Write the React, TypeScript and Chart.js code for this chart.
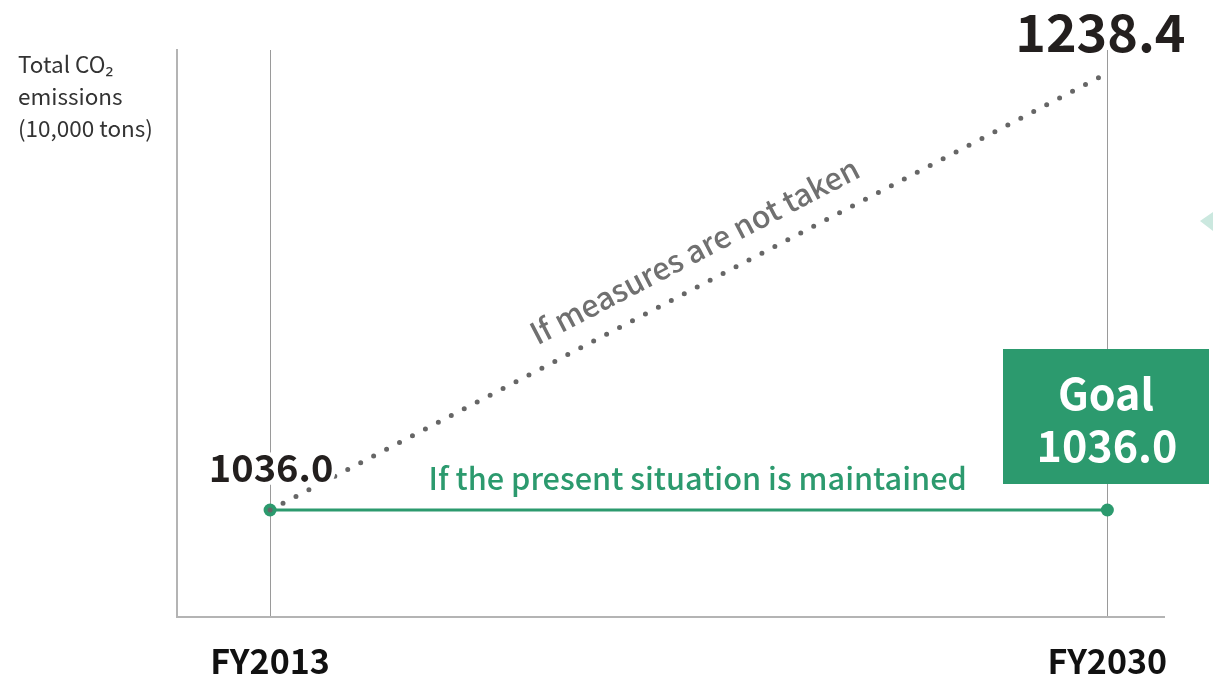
import React, { useEffect, useRef } from "react";
import { Chart, registerables } from "chart.js";

Chart.register(...registerables);

const years = [2013, 2030];
const presentValues = [1036.0, 1036.0];
const noMeasureValues = [1036.0, 1238.4];
const yTitle = ["Total CO₂", "emissions", "(10,000 tons)"];
const presentLabel = "If the present situation is maintained";
const noMeasureLabel = "If measures are not taken";
const goalLabel = ["Goal", "1036.0"];

const GREEN = "#2c9a6e";
const FONT = '"Noto Sans CJK JP", "Noto Sans", sans-serif';

const labelsPlugin = {
  id: "labelsPlugin",
  afterDatasetsDraw(chart: any) {
    const { ctx, scales } = chart;
    const xs = scales.x;
    const ys = scales.y;
    const x0 = xs.getPixelForValue(years[0]);
    const x1 = xs.getPixelForValue(years[1]);
    const yStart = ys.getPixelForValue(noMeasureValues[0]);
    const yEnd = ys.getPixelForValue(noMeasureValues[1]);
    const yPresent = ys.getPixelForValue(presentValues[1]);
    ctx.save();

    // y title
    ctx.fillStyle = "#333";
    ctx.font = `400 22.5px ${FONT}`;
    ctx.textAlign = "left";
    ctx.textBaseline = "alphabetic";
    yTitle.forEach((t, i) => ctx.fillText(t, 18, 73 + i * 32));

    // start value with halo
    ctx.font = `700 38px ${FONT}`;
    ctx.textAlign = "center";
    ctx.lineJoin = "round";
    ctx.strokeStyle = "#fff";
    ctx.lineWidth = 8;
    const sLabel = noMeasureValues[0].toFixed(1);
    ctx.strokeText(sLabel, x0 + 1, yStart - 28);
    ctx.fillStyle = "#231f1e";
    ctx.fillText(sLabel, x0 + 1, yStart - 28);

    // end value
    ctx.font = `700 52px ${FONT}`;
    ctx.fillStyle = "#231f1e";
    ctx.fillText(noMeasureValues[1].toFixed(1), x1 - 7, yEnd - 21);

    // present label
    ctx.font = `500 30.7px ${FONT}`;
    ctx.fillStyle = GREEN;
    ctx.fillText(presentLabel, (x0 + x1) / 2 + 9, yPresent - 20);

    // rotated label
    const ang = Math.atan2(yEnd - yStart, x1 - x0);
    const mx = (x0 + x1) / 2;
    const my = (yStart + yEnd) / 2;
    ctx.translate(mx, my);
    ctx.rotate(ang);
    ctx.font = `500 30.5px ${FONT}`;
    ctx.fillStyle = "#707070";
    ctx.textBaseline = "alphabetic";
    ctx.fillText(noMeasureLabel, 24, -22);
    ctx.setTransform(1, 0, 0, 1, 0, 0);

    // goal box
    ctx.fillStyle = GREEN;
    ctx.fillRect(1003, 349, 206, 135);
    ctx.fillStyle = "#fff";
    ctx.font = `700 43px ${FONT}`;
    ctx.textAlign = "center";
    ctx.fillText(goalLabel[0], 1106, 410);
    ctx.fillText(goalLabel[1], 1107, 462);

    // teal triangle
    ctx.fillStyle = "#cbe8df";
    ctx.beginPath();
    ctx.moveTo(1200, 221);
    ctx.lineTo(1213, 212);
    ctx.lineTo(1213, 231);
    ctx.closePath();
    ctx.fill();

    ctx.restore();
  },
};

export default function App() {
  const ref = useRef<HTMLCanvasElement>(null);
  useEffect(() => {
    document.body.style.margin = "0";
    const chart = new Chart(ref.current!, {
      type: "line",
      data: {
        datasets: [
          {
            data: years.map((x, i) => ({ x, y: noMeasureValues[i] })),
            borderColor: "#666666",
            borderWidth: 5,
            borderDash: [0, 14.6],
            borderCapStyle: "round",
            pointRadius: 0,
            fill: false,
          },
          {
            data: years.map((x, i) => ({ x, y: presentValues[i] })),
            borderColor: GREEN,
            backgroundColor: GREEN,
            borderWidth: 3,
            pointRadius: 6.5,
            pointBorderWidth: 0,
            fill: false,
          },
        ],
      },
      options: {
        responsive: false,
        animation: false,
        layout: { padding: { left: 177, right: 49, top: 50, bottom: 0 } },
        plugins: { legend: { display: false }, tooltip: { enabled: false }, title: { display: false } },
        scales: {
          x: {
            type: "linear",
            min: 2011.11,
            max: 2031.15,
            afterBuildTicks: (s: any) => {
              s.ticks = years.map((v) => ({ value: v }));
            },
            afterFit: (s: any) => {
              s.height = 66;
            },
            grid: { color: "#9a9a9a", lineWidth: 1, drawTicks: false },
            border: { color: "#b4b4b4", width: 2 },
            ticks: {
              padding: 24,
              color: "#111",
              font: { family: FONT, size: 34, weight: "bold" },
              callback: (v: any) => "FY" + v,
              maxRotation: 0,
            },
          },
          y: {
            type: "linear",
            min: 986.44,
            max: 1249.05,
            afterFit: (s: any) => {
              s.width = 0;
            },
            grid: { display: false },
            border: { color: "#b4b4b4", width: 2 },
            ticks: { display: false },
          },
        },
      },
      plugins: [labelsPlugin],
    } as any);
    return () => chart.destroy();
  }, []);
  return <canvas ref={ref} width={1213} height={683} style={{ display: "block", width: 1213, height: 683 }} />;
}
